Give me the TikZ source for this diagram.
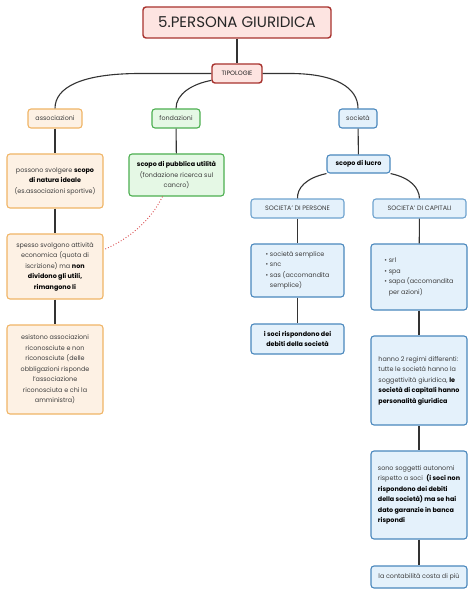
\documentclass[tikz,border=0pt]{standalone}
\usepackage{fontspec}
\setmainfont{Poppins}
\usetikzlibrary{positioning}
\definecolor{titlebd}{HTML}{A8322E}
\definecolor{titlefill}{HTML}{FDE4E1}
\definecolor{assbd}{HTML}{F0B566}
\definecolor{assfill}{HTML}{FDF1E4}
\definecolor{fondbd}{HTML}{4CAF50}
\definecolor{fondfill}{HTML}{E5F8E5}
\definecolor{socbd}{HTML}{4A88BD}
\definecolor{socfill}{HTML}{E4F1FB}
\definecolor{soclight}{HTML}{6FA3CF}
\definecolor{txtgray}{HTML}{3C3C3C}
\definecolor{linkgray}{HTML}{333333}
\definecolor{dotred}{HTML}{D9484A}
\newcommand{\bk}[1]{\textcolor{black}{\textbf{#1}}}

\tikzset{
	box/.style={draw, rounded corners=3pt, line width=1.1pt, align=center, inner sep=1pt, text=txtgray, font=\fontsize{6.4}{10.5}\selectfont},
	tagbox/.style={box, font=\fontsize{6.3}{8}\selectfont},
	titlebox/.style={box, draw=titlebd, fill=titlefill, line width=1.4pt, text=black!85},
	assbox/.style={box, draw=assbd, fill=assfill},
	fondbox/.style={box, draw=fondbd, fill=fondfill},
	socbox/.style={box, draw=socbd, fill=socfill},
	link/.style={draw=linkgray, line width=1.1pt},
	dotlink/.style={draw=dotred, dotted, line width=0.9pt}
}

\begin{document}
\begin{tikzpicture}[x=1pt, y=-1pt]
	\fill[white] (0,0) rectangle (474,604);
	\useasboundingbox (0,0) rectangle (474,604);

	% top
	\node[titlebox, minimum width=188pt, minimum height=31pt, font=\fontsize{15}{17}\selectfont] (title) at (237,22.5) {5.PERSONA GIURIDICA};
	\node[tagbox, titlebox, line width=1.4pt, minimum width=50pt, minimum height=19pt, font=\fontsize{6.3}{8}\selectfont] (tipo) at (237,73.5) {TIPOLOGIE};

	% the three kinds
	\node[tagbox, assbox, minimum width=54pt, minimum height=19pt] (ass) at (55,118.5) {associazioni};
	\node[tagbox, fondbox, minimum width=48pt, minimum height=19pt] (fond) at (176,118.5) {fondazioni};
	\node[tagbox, socbox, minimum width=38pt, minimum height=19pt] (soc) at (358,118.5) {società};

	% associazioni
	\node[assbox, minimum width=96pt, minimum height=54pt] (ass1) at (55,181) {possono svolgere \bk{scopo}\\ \bk{di natura ideale}\\ (es.associazioni sportive)};
	\node[assbox, minimum width=96pt, minimum height=65pt] (ass2) at (55,266.5) {spesso svolgono attività\\ economica (quota di\\ iscrizione) ma \bk{non}\\ \bk{dividono gli utili,}\\ \bk{rimangono li}};
	\node[assbox, minimum width=96pt, minimum height=89pt] (ass3) at (55,369.5) {esistono associazioni\\ riconosciute e non\\ riconosciute (delle\\ obbligazioni risponde\\ l'associazione\\ riconosciuta e chi la\\ amministra)};

	% fondazioni
	\node[fondbox, minimum width=95pt, minimum height=42pt] (fond1) at (176.5,175) {\bk{scopo di pubblica utilità}\\ (fondazione ricerca sul\\ cancro)};

	% società
	\node[socbox, minimum width=63pt, minimum height=18pt] (lucro) at (358.5,164) {\bk{scopo di lucro}};
	\node[tagbox, socbox, draw=soclight, minimum width=93pt, minimum height=19pt] (pers) at (297.5,208.5) {SOCIETA' DI PERSONE};
	\node[tagbox, socbox, draw=soclight, minimum width=93pt, minimum height=19pt] (cap) at (419.5,208.5) {SOCIETA' DI CAPITALI};

	\node[socbox, align=left, minimum width=93pt, minimum height=53pt] (pers1) at (297.5,270.5) {• società semplice\\ • snc\\ • sas (accomandita\\ \phantom{• }semplice)};
	\node[socbox, minimum width=93pt, minimum height=30pt] (pers2) at (297.5,339) {\bk{i soci rispondono dei}\\ \bk{debiti della società}};

	\node[socbox, align=left, minimum width=96pt, minimum height=66pt] (cap1) at (419,277) {• srl\\ • spa\\ • sapa (accomandita\\ \phantom{• }per azioni)};
	\node[socbox, align=left, minimum width=96pt, minimum height=89pt] (cap2) at (419,380.5) {hanno 2 regimi differenti:\\ tutte le società hanno la\\ soggettività giuridica, \bk{le}\\ \bk{società di capitali hanno}\\ \bk{personalità giuridica}};
	\node[socbox, align=left, minimum width=96pt, minimum height=88pt] (cap3) at (419,495) {sono soggetti autonomi\\ rispetto a soci \ \bk{(i soci non}\\ \bk{rispondono dei debiti}\\ \bk{della società) ma se hai}\\ \bk{dato garanzie in banca}\\ \bk{rispondi}};
	\node[socbox, minimum width=96pt, minimum height=22pt] (cap4) at (419,577) {la contabilità costa di più};

	% connectors
	\draw[link] (title) -- (tipo);
	\draw[link] (tipo.west) -- (140,73.5) .. controls (80,73.5) and (55,88) .. (ass.north);
	\draw[link] (tipo.195) .. controls (192,84) and (176,94) .. (fond.north);
	\draw[link] (tipo.east) -- (290,73.5) .. controls (336,73.5) and (358,88) .. (soc.north);
	\draw[link] (ass) -- (ass1);
	\draw[link] (ass1) -- (ass2);
	\draw[link] (ass2) -- (ass3);
	\draw[link] (fond) -- (fond1);
	\draw[link] (soc) -- (lucro);
	\draw[link] (lucro.south west) .. controls (306,178) and (297,188) .. (pers.north);
	\draw[link] (lucro.south east) .. controls (411,178) and (419,188) .. (cap.north);
	\draw[link] (pers) -- (pers1);
	\draw[link] (pers1) -- (pers2);
	\draw[link] (cap) -- (cap1);
	\draw[link] (cap1) -- (cap2);
	\draw[link] (cap2) -- (cap3);
	\draw[link] (cap3) -- (cap4);
	\draw[dotlink] (fond1.237) .. controls (150,222) and (127,240) .. (ass2.19);
\end{tikzpicture}
\end{document}
